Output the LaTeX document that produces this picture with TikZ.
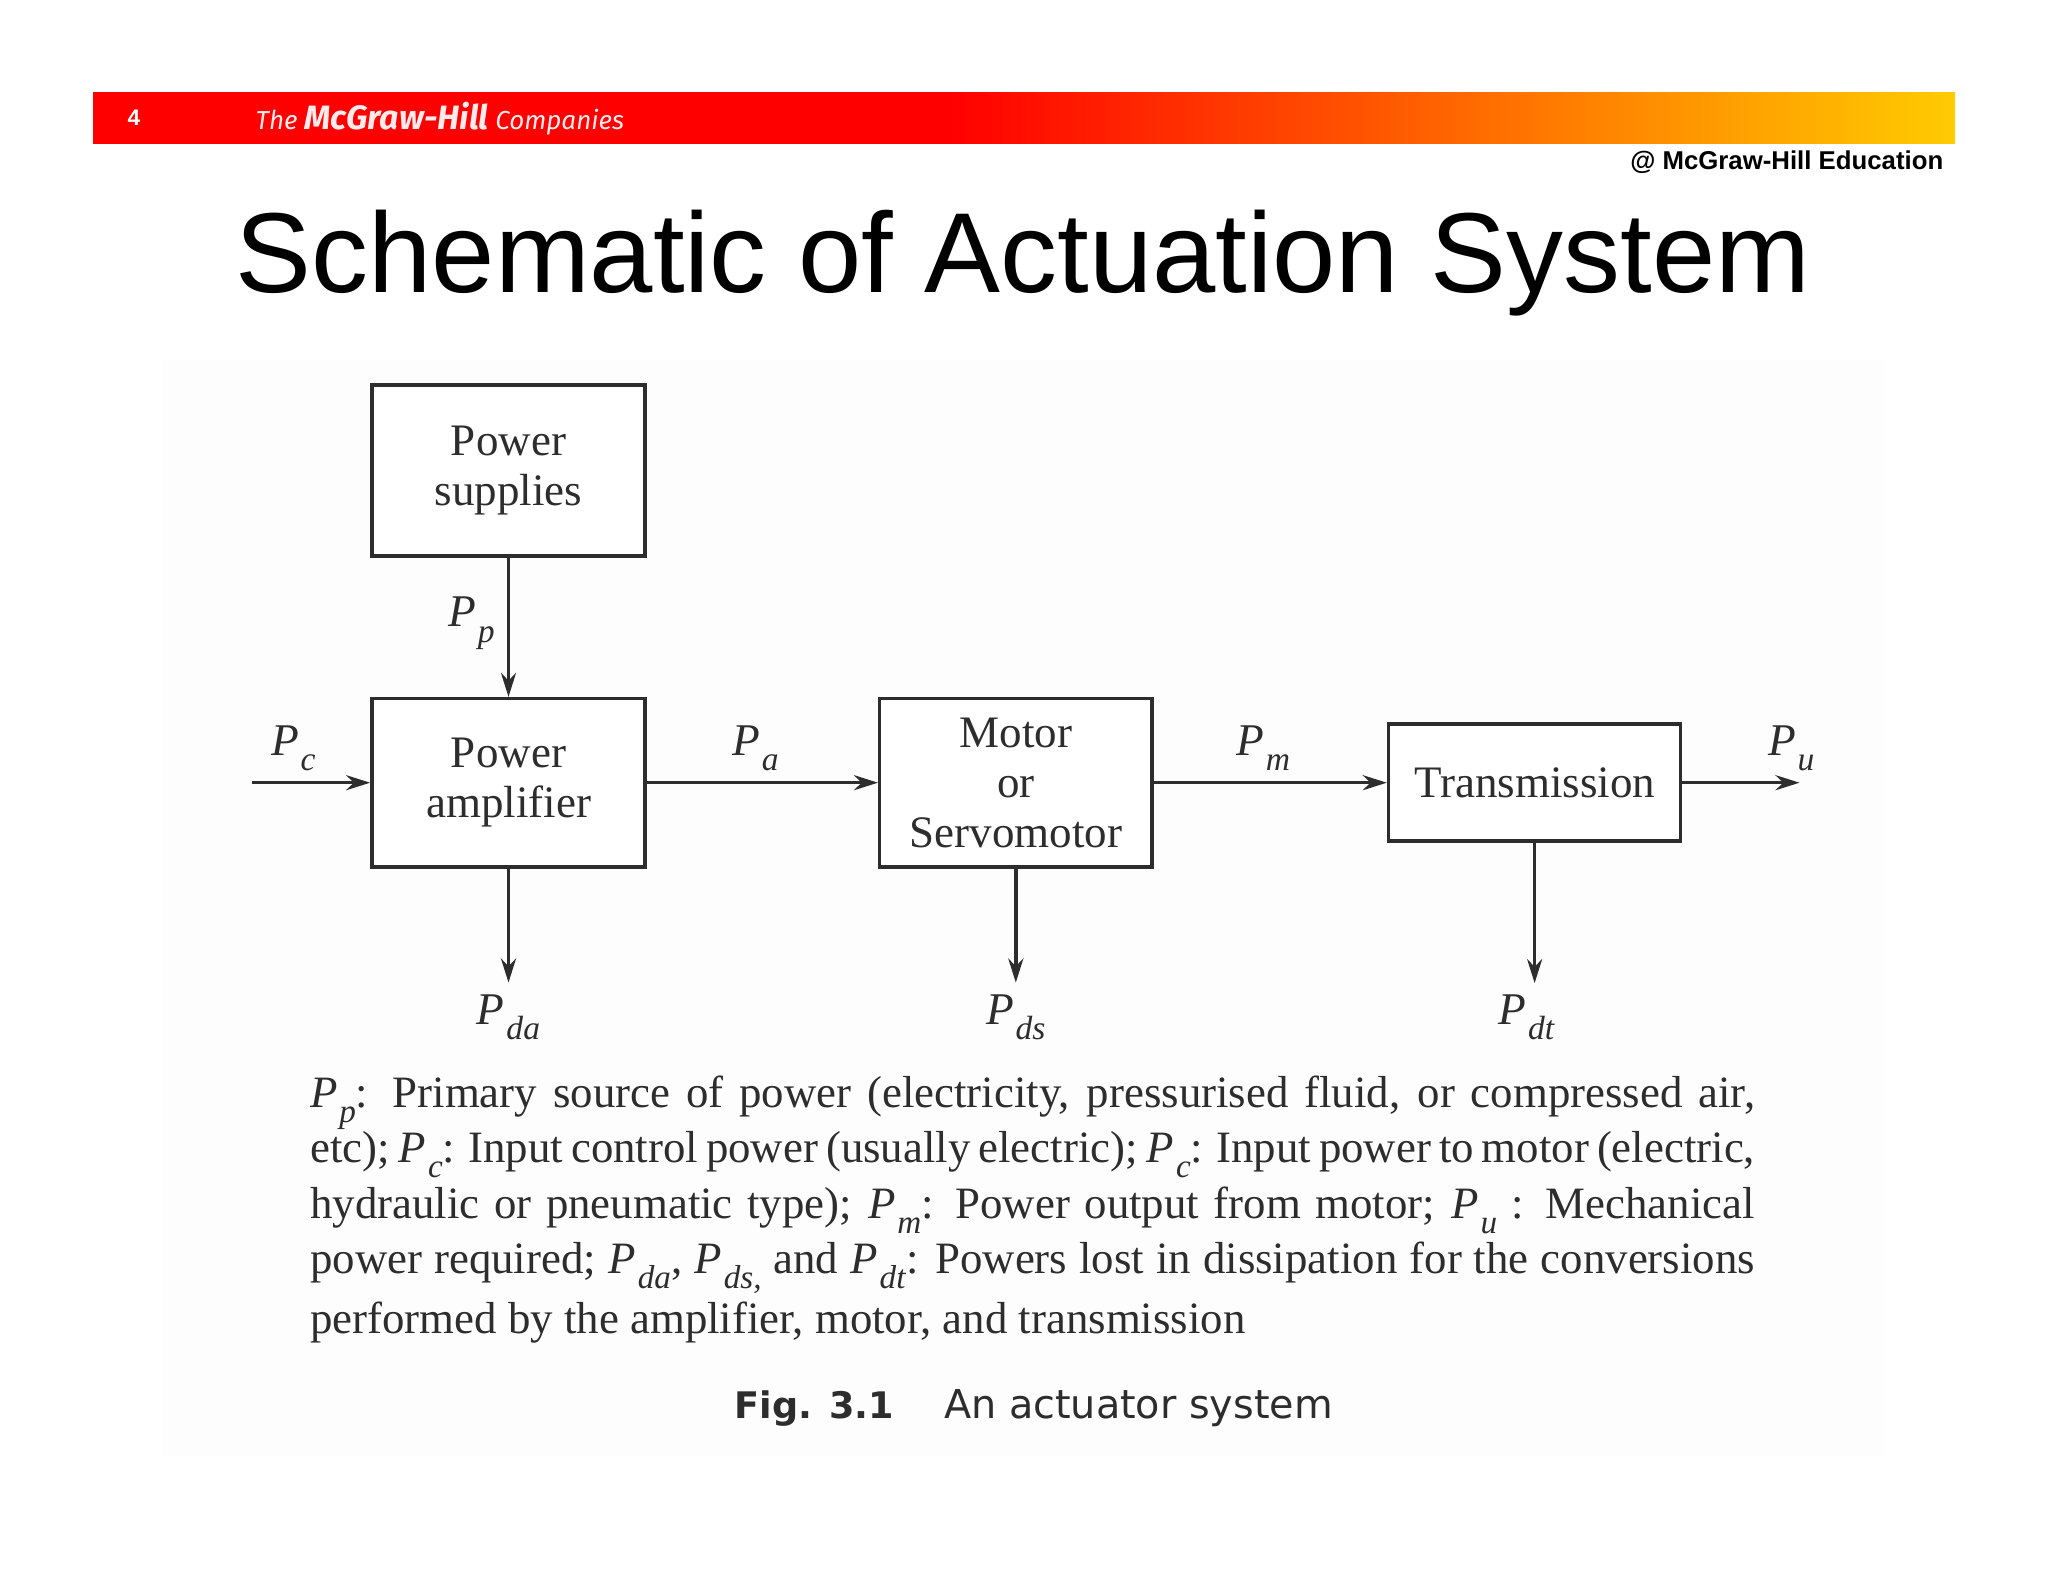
\documentclass[tikz,border=0pt]{standalone}
\usepackage{fontspec}
\usepackage{graphicx}
\usepackage{xcolor}
\usepackage{tikz}
\usetikzlibrary{arrows.meta, positioning, calc}
\setmainfont{Liberation Serif}
\newfontfamily\arialfont{Liberation Sans}
\newfontfamily\logofont{Fira Sans}
\newfontfamily\capfont{DejaVu Sans}
\definecolor{cInk}{RGB}{45,45,45}
\definecolor{cGold}{RGB}{255,204,0}
\definecolor{cPaper}{RGB}{253,253,253}
\pgfdeclarehorizontalshading{bannergrad}{100bp}{color(0bp)=(red); color(48bp)=(red); color(75bp)=(cGold); color(100bp)=(cGold)}
\newcommand{\pw}[1]{\textit{P}\kern.04em\raisebox{-.34em}{\scalebox{.74}{\textit{#1}}}}
\tikzset{
    blockbox/.style={rectangle, draw=cInk, line width=1pt, text=cInk, align=center, fill=white, font=\fontsize{12.8pt}{14.2pt}\selectfont},
    flowarrow/.style={-{Stealth[length=2.4mm, width=1.5mm]}, draw=cInk, line width=1pt},
    powerlabel/.style={text=cInk, inner sep=0pt, font=\fontsize{12.9pt}{15pt}\selectfont},
}
\begin{document}
\begin{tikzpicture}[x=0.01cm, y=-0.01cm]
    \useasboundingbox (0,0) rectangle (2048,1582);
    \fill[white] (0,0) rectangle (2048,1582);
    \fill[cPaper] (162,360) rectangle (1885,1456);
    \shade[shading=bannergrad] (93,93) rectangle (1955,144);
    \node[text=white, font=\arialfont\bfseries\fontsize{6.4pt}{8pt}\selectfont] (pagenum) at (134,118) {4};
    \node[anchor=base west, inner sep=0pt, text=white!92!red, font=\logofont\itshape\fontsize{7.4pt}{9pt}\selectfont] (logo) at (255,130) {The {\bfseries\fontsize{9.6pt}{9pt}\selectfont McGraw-Hill} Companies};
    \node[anchor=base east, inner sep=0pt, font=\arialfont\bfseries\fontsize{7.33pt}{9pt}\selectfont] (credit) at (1944,170) {@ McGraw-Hill Education};
    \node[anchor=base, inner sep=0pt, font=\arialfont\fontsize{32.35pt}{36pt}\selectfont] (title) at (1023,292) {Schematic of Actuation System};

    \node[blockbox, minimum width=2.73cm, minimum height=1.71cm] (supply) at (508.5,470.5) {Power\\supplies};
    \node[blockbox, minimum width=2.73cm, minimum height=1.68cm, below=1.39cm of supply] (amp) {Power\\amplifier};
    \node[blockbox, minimum width=2.72cm, minimum height=1.68cm, right=2.31cm of amp] (motor) {Motor\\or\\Servomotor};
    \node[blockbox, minimum width=2.92cm, minimum height=1.17cm, right=2.33cm of motor] (trans) {Transmission};

    \coordinate[left=1.18cm of amp] (pcin);
    \coordinate[right=1.17cm of trans] (puout);
    \coordinate[below=1.14cm of amp] (daout);
    \coordinate[below=1.14cm of motor] (dsout);
    \coordinate[below=1.40cm of trans] (dtout);

    \draw[flowarrow] (supply)-- node[powerlabel, left=0.12cm, pos=.47] (lblp) {\pw{p}} (amp);
    \draw[flowarrow] (pcin)-- node[powerlabel, above=0.1cm, pos=.35] (lblc) {\pw{c}} (amp);
    \draw[flowarrow] (amp)-- node[powerlabel, above=0.1cm, pos=.47] (lbla) {\pw{a}} (motor);
    \draw[flowarrow] (motor)-- node[powerlabel, above=0.1cm, pos=.47] (lblm) {\pw{m}} (trans);
    \draw[flowarrow] (trans)-- node[powerlabel, above=0.1cm, pos=.93] (lblu) {\pw{u}} (puout);
    \draw[flowarrow] (amp)-- (daout) node[powerlabel, below=0.1cm] (lblda) {\pw{da}};
    \draw[flowarrow] (motor)-- (dsout) node[powerlabel, below=0.1cm] (lblds) {\pw{ds}};
    \draw[flowarrow] (trans)-- (dtout) node[powerlabel, below=0.1cm, xshift=-0.08cm] (lbldt) {\pw{dt}};

    \node[anchor=north west, inner sep=0pt, text=cInk, text width=14.44cm, align=justify, font=\fontsize{12.75pt}{15.75pt}\selectfont] (legend) at (309.5,1075) {\pw{p}: Primary source of power (electricity, pressurised fluid, or compressed air,\linebreak
    etc); \pw{c}: Input control power (usually electric); \pw{c}: Input power to motor (electric,\linebreak
    hydraulic or pneumatic type); \pw{m}: Power output from motor; \pw{u} : Mechanical\linebreak
    power required; \pw{da}, \pw{ds,} and \pw{dt}: Powers lost in dissipation for the conversions\vadjust{\kern1.2pt}\linebreak
    performed by the amplifier, motor, and transmission};
    \node[anchor=base west, inner sep=0pt, text=cInk, font=\capfont\fontsize{11.3pt}{12pt}\selectfont] (figcap) at (734,1418) {{\bfseries\fontsize{10.4pt}{12pt}\selectfont Fig. 3.1}\hspace{0.5cm}An actuator system};
\end{tikzpicture}
\end{document}
